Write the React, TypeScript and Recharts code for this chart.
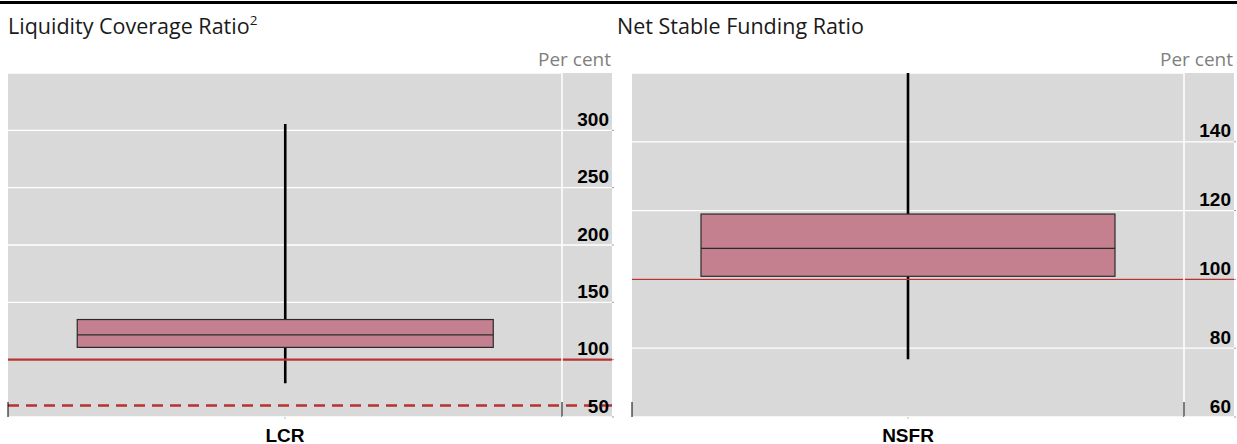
import React from 'react';
import { ComposedChart, Bar, XAxis, YAxis, CartesianGrid, ReferenceLine } from 'recharts';

// ---- LCR panel data ----
const lcrCategories = ['LCR'];
const lcrMin = [79.5];
const lcrQ1 = [110.7];
const lcrMedian = [121.7];
const lcrQ3 = [135];
const lcrMax = [305.5];
const lcrTicks = [50, 100, 150, 200, 250, 300];
const lcrDomain: [number, number] = [50, 350];
const lcrSolidLines = [100];
const lcrDashedLines = [60];

// ---- NSFR panel data ----
const nsfrCategories = ['NSFR'];
const nsfrMin = [76.8];
const nsfrQ1 = [100.9];
const nsfrMedian = [109];
const nsfrQ3 = [119];
const nsfrMax = [160];
const nsfrTicks = [60, 80, 100, 120, 140];
const nsfrDomain: [number, number] = [60, 160];
const nsfrSolidLines = [100];
const nsfrDashedLines: number[] = [];

const titles = ['Liquidity Coverage Ratio', 'Net Stable Funding Ratio'];
const unitLabel = 'Per cent';

const RED = '#b83232';
const GREY = '#d9d9d9';
const BOX_FILL = '#c4808f';
const AXIS_W = 50;

const buildData = (cats: string[], mn: number[], q1: number[], med: number[], q3: number[], mx: number[]) =>
  cats.map((name, i) => ({
    name,
    whisker: [mn[i], mx[i]],
    box: [q1[i], q3[i]],
    median: med[i],
  }));

const BoxShape = (props: any) => {
  const { x, y, width, height, payload } = props;
  const top = Math.min(y, y + height);
  const h = Math.abs(height);
  const [q1, q3] = payload.box;
  const my = top + (h * (q3 - payload.median)) / (q3 - q1);
  return (
    <g>
      <rect x={x} y={top} width={width} height={h} fill={BOX_FILL} stroke="#2a2a2a" strokeWidth={1.2} />
      <line x1={x} x2={x + width} y1={my} y2={my} stroke="#2a2a2a" strokeWidth={1.2} />
    </g>
  );
};

const WhiskerShape = (props: any) => {
  const { x, y, width, height } = props;
  const cx = x + width / 2;
  return <line x1={cx} x2={cx} y1={y} y2={y + height} stroke="#000" strokeWidth={2.6} />;
};

const extendedLine = (p: any) => {
  const a = Math.min(p.x1, p.x2);
  const b = Math.max(p.x1, p.x2) + AXIS_W;
  return (
    <line x1={a} x2={b} y1={p.y1} y2={p.y2} stroke={p.stroke} strokeWidth={p.strokeWidth} strokeDasharray={p.strokeDasharray} />
  );
};

const makeYTick = (skip: number[]) => (props: any) => {
  const { x, y, payload } = props;
  return (
    <g>
      {skip.indexOf(payload.value) < 0 && (
        <line x1={x} x2={x + AXIS_W} y1={y} y2={y} stroke="#ffffff" strokeWidth={1.3} />
      )}
      <line x1={x + AXIS_W} x2={x + AXIS_W + 2} y1={y} y2={y} stroke="#9a9a9a" strokeWidth={1} />
      <text
        x={x + 47}
        y={y - 4.5}
        textAnchor="end"
        fontFamily="'Liberation Sans', Arial, sans-serif"
        fontWeight="bold"
        fontSize={19}
        fill="#000"
      >
        {payload.value}
      </text>
    </g>
  );
};

const XTick = (props: any) => {
  const { x, y, payload, width } = props;
  const half = typeof width === 'number' ? width / 2 : null;
  return (
    <g>
      {half !== null && (
        <>
          <line x1={x - half} x2={x - half} y1={y} y2={y - 15} stroke="#000" strokeWidth={1} />
          <line x1={x + half} x2={x + half} y1={y} y2={y - 15} stroke="#000" strokeWidth={1} />
        </>
      )}
      <line x1={x} x2={x} y1={y} y2={y + 2} stroke="#bdbdbd" strokeWidth={1} />
      <text
        x={x}
        y={y + 24.5}
        textAnchor="middle"
        fontFamily="'Liberation Sans', Arial, sans-serif"
        fontWeight="bold"
        fontSize={19}
        fill="#000"
      >
        {payload.value}
      </text>
    </g>
  );
};

type PanelProps = {
  data: any[];
  width: number;
  margin: { top: number; right: number; bottom: number; left: number };
  domain: [number, number];
  ticks: number[];
  solid: number[];
  dashed: number[];
  solidWidth: number;
};

const Panel = ({ data, width, margin, domain, ticks, solid, dashed, solidWidth }: PanelProps) => (
  <ComposedChart width={width} height={444} data={data} margin={margin} barCategoryGap="12.5%">
    <CartesianGrid xAxisId="main" horizontal={true} vertical={false} stroke="#ffffff" strokeWidth={1.3} />
    <XAxis xAxisId="main" dataKey="name" type="category" height={27} axisLine={false} tickLine={false} tickSize={0} tickMargin={0} tick={<XTick />} interval={0} />
    <XAxis xAxisId="w" dataKey="name" type="category" hide />
    <YAxis
      orientation="right"
      width={AXIS_W}
      domain={domain}
      ticks={ticks}
      type="number"
      axisLine={{ stroke: '#ffffff', strokeWidth: 1.5 }}
      tickLine={false}
      tickSize={0}
      tickMargin={0}
      interval={0}
      tick={makeYTick([...solid, ...dashed])}
    />
    <Bar xAxisId="w" dataKey="whisker" shape={<WhiskerShape />} isAnimationActive={false} />
    <Bar xAxisId="main" dataKey="box" shape={<BoxShape />} isAnimationActive={false} />
    {solid.map((v) => (
      <ReferenceLine key={'s' + v} xAxisId="main" y={v} stroke={RED} strokeWidth={solidWidth} shape={extendedLine} ifOverflow="visible" />
    ))}
    {dashed.map((v) => (
      <ReferenceLine key={'d' + v} xAxisId="main" y={v} stroke={RED} strokeWidth={2.6} strokeDasharray="11 7" shape={extendedLine} ifOverflow="visible" />
    ))}
  </ComposedChart>
);

const lcrData = buildData(lcrCategories, lcrMin, lcrQ1, lcrMedian, lcrQ3, lcrMax);
const nsfrData = buildData(nsfrCategories, nsfrMin, nsfrQ1, nsfrMedian, nsfrQ3, nsfrMax);

export default function App() {
  return (
    <div style={{ position: 'absolute', left: 0, top: 0, width: 1237, height: 444, background: '#fff', overflow: 'hidden' }}>
      <div style={{ position: 'absolute', left: 8, top: 73, width: 604, height: 344, background: GREY }} />
      <div style={{ position: 'absolute', left: 632, top: 73, width: 602, height: 344, background: GREY }} />
      <div style={{ position: 'absolute', left: 0, top: 0 }}>
        <Panel
          data={lcrData}
          width={620}
          margin={{ top: 73, right: 8, bottom: 0, left: 8 }}
          domain={lcrDomain}
          ticks={lcrTicks}
          solid={lcrSolidLines}
          dashed={lcrDashedLines}
          solidWidth={2.4}
        />
      </div>
      <div style={{ position: 'absolute', left: 620, top: 0 }}>
        <Panel
          data={nsfrData}
          width={617}
          margin={{ top: 73, right: 3, bottom: 0, left: 12 }}
          domain={nsfrDomain}
          ticks={nsfrTicks}
          solid={nsfrSolidLines}
          dashed={nsfrDashedLines}
          solidWidth={1.2}
        />
      </div>
      <svg width={1237} height={444} style={{ position: 'absolute', left: 0, top: 0, pointerEvents: 'none' }}>
        <rect x={0} y={1} width={1237} height={3} fill="#000" />
        <text x={8} y={33.5} fontFamily="'Open Sans', 'Noto Sans', sans-serif" fontSize={21.5} fill="#1a1a1a">
          {titles[0]}
          <tspan fontSize={13.5} dy={-8.5}>2</tspan>
        </text>
        <text x={617} y={33.5} fontFamily="'Open Sans', 'Noto Sans', sans-serif" fontSize={21.5} fill="#1a1a1a">
          {titles[1]}
        </text>
        <text x={611} y={65.7} textAnchor="end" fontFamily="'Open Sans', 'Noto Sans', sans-serif" fontSize={19} fill="#7f7f7f">
          {unitLabel}
        </text>
        <text x={1233} y={65.7} textAnchor="end" fontFamily="'Open Sans', 'Noto Sans', sans-serif" fontSize={19} fill="#7f7f7f">
          {unitLabel}
        </text>
      </svg>
    </div>
  );
}
